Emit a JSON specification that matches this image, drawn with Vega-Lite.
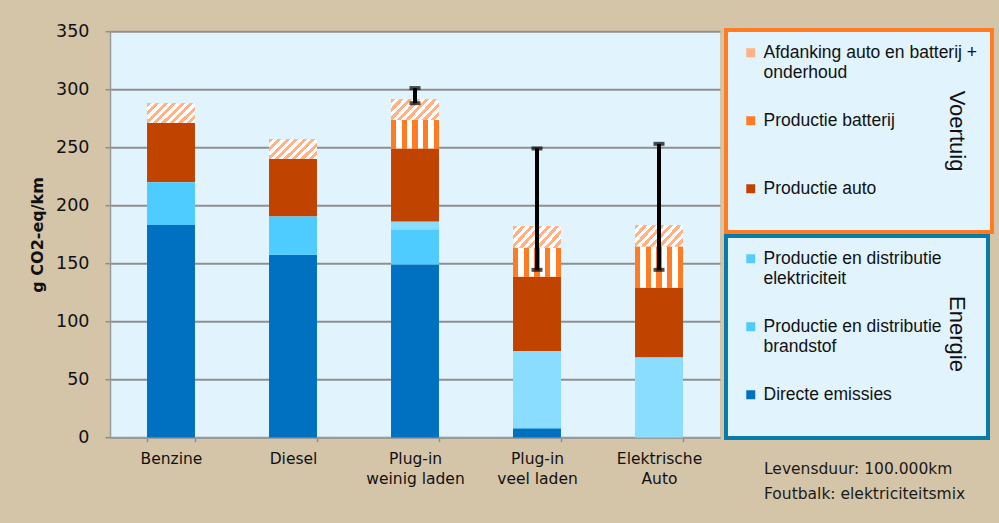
{
  "$schema": "https://vega.github.io/schema/vega-lite/v6.json",
  "width": 610,
  "height": 406.4,
  "autosize": {"type": "none"},
  "padding": {"left": 110, "top": 31.2, "right": 279, "bottom": 85.4},
  "background": "#D4C5A9",
  "config": {
    "view": {"fill": "#E1F3FD", "stroke": null}
  },
  "datasets": {
    "segments": [
      {"auto": "Benzine", "cat": "Directe emissies", "order": 1, "value": 183},
      {"auto": "Benzine", "cat": "Productie en distributie brandstof", "order": 2, "value": 37},
      {"auto": "Benzine", "cat": "Productie auto", "order": 4, "value": 51},
      {"auto": "Benzine", "cat": "Afdanking auto en batterij + onderhoud", "order": 6, "value": 17},
      {"auto": "Diesel", "cat": "Directe emissies", "order": 1, "value": 157.5},
      {"auto": "Diesel", "cat": "Productie en distributie brandstof", "order": 2, "value": 33},
      {"auto": "Diesel", "cat": "Productie auto", "order": 4, "value": 49.5},
      {"auto": "Diesel", "cat": "Afdanking auto en batterij + onderhoud", "order": 6, "value": 17},
      {"auto": "Plug-in weinig laden", "cat": "Directe emissies", "order": 1, "value": 149},
      {"auto": "Plug-in weinig laden", "cat": "Productie en distributie brandstof", "order": 2, "value": 30},
      {"auto": "Plug-in weinig laden", "cat": "Productie en distributie elektriciteit", "order": 3, "value": 7},
      {"auto": "Plug-in weinig laden", "cat": "Productie auto", "order": 4, "value": 63},
      {"auto": "Plug-in weinig laden", "cat": "Productie batterij", "order": 5, "value": 24.5},
      {"auto": "Plug-in weinig laden", "cat": "Afdanking auto en batterij + onderhoud", "order": 6, "value": 18},
      {"auto": "Plug-in veel laden", "cat": "Directe emissies", "order": 1, "value": 8},
      {"auto": "Plug-in veel laden", "cat": "Productie en distributie elektriciteit", "order": 3, "value": 66.5},
      {"auto": "Plug-in veel laden", "cat": "Productie auto", "order": 4, "value": 64},
      {"auto": "Plug-in veel laden", "cat": "Productie batterij", "order": 5, "value": 25},
      {"auto": "Plug-in veel laden", "cat": "Afdanking auto en batterij + onderhoud", "order": 6, "value": 18.8},
      {"auto": "Elektrische Auto", "cat": "Productie en distributie elektriciteit", "order": 3, "value": 69},
      {"auto": "Elektrische Auto", "cat": "Productie auto", "order": 4, "value": 60},
      {"auto": "Elektrische Auto", "cat": "Productie batterij", "order": 5, "value": 35.5},
      {"auto": "Elektrische Auto", "cat": "Afdanking auto en batterij + onderhoud", "order": 6, "value": 18.5}
    ],
    "errors": [
      {"auto": "Plug-in weinig laden", "low": 288, "high": 301},
      {"auto": "Plug-in veel laden", "low": 144.5, "high": 249},
      {"auto": "Elektrische Auto", "low": 144.5, "high": 253}
    ]
  },
  "title": {
    "text": ["Levensduur: 100.000km", "Foutbalk: elektriciteitsmix"],
    "orient": "bottom",
    "anchor": "end",
    "align": "left",
    "frame": "group",
    "dx": 44,
    "offset": -25,
    "font": "DejaVu Sans",
    "fontSize": 15.5,
    "fontWeight": "normal",
    "lineHeight": 25,
    "color": "#1A1A1A"
  },
  "encoding": {
    "x": {
      "field": "auto",
      "type": "nominal",
      "sort": ["Benzine", "Diesel", "Plug-in weinig laden", "Plug-in veel laden", "Elektrische Auto"],
      "scale": {"paddingInner": 0.607, "paddingOuter": 0.3035},
      "axis": {
        "title": null,
        "labelAngle": 0,
        "labelExpr": "datum.label == 'Plug-in weinig laden' ? ['Plug-in', 'weinig laden'] : datum.label == 'Plug-in veel laden' ? ['Plug-in', 'veel laden'] : datum.label == 'Elektrische Auto' ? ['Elektrische', 'Auto'] : datum.label",
        "labelFont": "DejaVu Sans",
        "labelFontSize": 15.5,
        "labelLineHeight": 20,
        "labelColor": "#111111",
        "labelPadding": 10,
        "tickBand": "extent",
        "tickSize": 4,
        "tickColor": "#8C8C8C",
        "tickWidth": 1.5,
        "domainColor": "#9A9A9A",
        "domainWidth": 2
      }
    }
  },
  "layer": [
    {
      "data": {"name": "segments"},
      "transform": [
        {"stack": "value", "groupby": ["auto"], "sort": [{"field": "order", "order": "ascending"}], "as": ["y0", "y1"]}
      ],
      "layer": [
        {
          "transform": [{"filter": "datum.order >= 4"}],
          "mark": {"type": "bar"},
          "encoding": {
            "y": {
              "field": "y1", "type": "quantitative", "title": "g CO2-eq/km",
              "scale": {"domain": [0, 350], "nice": false},
              "axis": {
                "values": [0, 50, 100, 150, 200, 250, 300, 350],
                "grid": true, "gridColor": "#8F8F8F", "gridWidth": 2,
                "domainColor": "#9A9A9A", "domainWidth": 1.5,
                "tickColor": "#8C8C8C", "tickSize": 5, "tickWidth": 1.5,
                "labelFont": "DejaVu Sans", "labelFontSize": 17.5, "labelColor": "#111111", "labelPadding": 16,
                "titleFont": "DejaVu Sans", "titleFontSize": 16, "titleFontWeight": "bold", "titleColor": "#111111", "titlePadding": 10
              }
            },
            "y2": {"field": "y0"},
            "fill": {
              "field": "cat", "type": "nominal",
              "scale": {
                "domain": ["Afdanking auto en batterij + onderhoud", "Productie batterij", "Productie auto"],
                "range": ["#FFB187", "#FF7C24", "#C04400"]
              },
              "legend": {
                "orient": "none", "direction": "vertical",
                "legendX": 616, "legendY": -1.2,
                "title": "Voertuig", "titleOrient": "right", "titleAnchor": "middle",
                "titleFont": "Liberation Sans", "titleFontSize": 22, "titleFontWeight": "normal", "titleColor": "#111111", "titlePadding": -20,
                "strokeColor": "#FF7C24", "fillColor": "#E1F3FD", "padding": 14,
                "symbolType": "square", "symbolSize": 81, "symbolOffset": 2, "symbolStrokeWidth": 0,
                "labelFont": "Liberation Sans", "labelFontSize": 17.5, "labelColor": "#111111", "labelOffset": 4, "labelLimit": 400,
                "labelBaseline": "top",
                "labelExpr": "datum.label == 'Afdanking auto en batterij + onderhoud' ? ['Afdanking auto en batterij +', 'onderhoud'] : [datum.label, ' ']",
                "rowPadding": 30,
                "encoding": {
                  "legend": {"strokeWidth": {"value": 4}},
                  "labels": {"dy": {"value": -8.5}, "lineHeight": {"value": 20}},
                  "title": {"angle": {"value": 90}, "align": {"value": "center"}, "baseline": {"value": "middle"}}
                }
              }
            }
          }
        },
        {
          "transform": [{"filter": "datum.order <= 3"}],
          "mark": {"type": "bar"},
          "encoding": {
            "y": {"field": "y1", "type": "quantitative", "title": "g CO2-eq/km"},
            "y2": {"field": "y0"},
            "color": {
              "field": "cat", "type": "nominal",
              "scale": {
                "domain": ["Productie en distributie elektriciteit", "Productie en distributie brandstof", "Directe emissies"],
                "range": ["#55CDFF", "#4FCCFF", "#0070C0"]
              },
              "legend": {
                "orient": "none", "direction": "vertical",
                "legendX": 616, "legendY": 204.8,
                "title": ["", "Energie"], "titleOrient": "right", "titleAnchor": "middle",
                "titleFont": "Liberation Sans", "titleFontSize": 22, "titleFontWeight": "normal", "titleColor": "#111111", "titlePadding": 21, "titleLineHeight": 6,
                "strokeColor": "#0A7AA6", "fillColor": "#E1F3FD", "padding": 14,
                "symbolType": "square", "symbolSize": 81, "symbolOffset": 2, "symbolStrokeWidth": 0,
                "labelFont": "Liberation Sans", "labelFontSize": 17.5, "labelColor": "#111111", "labelOffset": 4, "labelLimit": 400,
                "labelBaseline": "top",
                "labelExpr": "datum.label == 'Productie en distributie elektriciteit' ? ['Productie en distributie', 'elektriciteit'] : datum.label == 'Productie en distributie brandstof' ? ['Productie en distributie', 'brandstof'] : [datum.label, ' ']",
                "rowPadding": 30,
                "encoding": {
                  "legend": {"strokeWidth": {"value": 4}},
                  "labels": {"dy": {"value": -8.5}, "lineHeight": {"value": 20}},
                  "title": {"angle": {"value": 90}, "align": {"value": "center"}, "baseline": {"value": "middle"}}
                }
              }
            }
          }
        },
        {
          "transform": [{"filter": "datum.cat == 'Productie en distributie elektriciteit'"}],
          "mark": {"type": "bar", "color": "#8ADDFF"},
          "encoding": {
            "y": {"field": "y1", "type": "quantitative", "title": "g CO2-eq/km"},
            "y2": {"field": "y0"}
          }
        },
        {
          "transform": [{"filter": "datum.cat == 'Productie batterij'"}],
          "mark": {
            "type": "bar",
            "color": {
              "gradient": "linear", "x1": 0, "y1": 0, "x2": 1, "y2": 0,
              "stops": [
                {"offset": 0, "color": "#FF7C24"}, {"offset": 0.111, "color": "#FF7C24"},
                {"offset": 0.111, "color": "#FFFFFF"}, {"offset": 0.222, "color": "#FFFFFF"},
                {"offset": 0.222, "color": "#FF7C24"}, {"offset": 0.333, "color": "#FF7C24"},
                {"offset": 0.333, "color": "#FFFFFF"}, {"offset": 0.444, "color": "#FFFFFF"},
                {"offset": 0.444, "color": "#FF7C24"}, {"offset": 0.556, "color": "#FF7C24"},
                {"offset": 0.556, "color": "#FFFFFF"}, {"offset": 0.667, "color": "#FFFFFF"},
                {"offset": 0.667, "color": "#FF7C24"}, {"offset": 0.778, "color": "#FF7C24"},
                {"offset": 0.778, "color": "#FFFFFF"}, {"offset": 0.889, "color": "#FFFFFF"},
                {"offset": 0.889, "color": "#FF7C24"}, {"offset": 1, "color": "#FF7C24"}
              ]
            }
          },
          "encoding": {
            "y": {"field": "y1", "type": "quantitative", "title": "g CO2-eq/km"},
            "y2": {"field": "y0"}
          }
        },
        {
          "transform": [{"filter": "datum.cat == 'Afdanking auto en batterij + onderhoud'"}],
          "mark": {
            "type": "bar",
            "color": {
              "gradient": "linear", "x1": 0, "y1": 0, "x2": 1.207, "y2": 0.503,
              "stops": [
                {"offset": 0, "color": "#FFB187"}, {"offset": 0.0625, "color": "#FFB187"},
                {"offset": 0.0625, "color": "#FFFFFF"}, {"offset": 0.125, "color": "#FFFFFF"},
                {"offset": 0.125, "color": "#FFB187"}, {"offset": 0.1875, "color": "#FFB187"},
                {"offset": 0.1875, "color": "#FFFFFF"}, {"offset": 0.25, "color": "#FFFFFF"},
                {"offset": 0.25, "color": "#FFB187"}, {"offset": 0.3125, "color": "#FFB187"},
                {"offset": 0.3125, "color": "#FFFFFF"}, {"offset": 0.375, "color": "#FFFFFF"},
                {"offset": 0.375, "color": "#FFB187"}, {"offset": 0.4375, "color": "#FFB187"},
                {"offset": 0.4375, "color": "#FFFFFF"}, {"offset": 0.5, "color": "#FFFFFF"},
                {"offset": 0.5, "color": "#FFB187"}, {"offset": 0.5625, "color": "#FFB187"},
                {"offset": 0.5625, "color": "#FFFFFF"}, {"offset": 0.625, "color": "#FFFFFF"},
                {"offset": 0.625, "color": "#FFB187"}, {"offset": 0.6875, "color": "#FFB187"},
                {"offset": 0.6875, "color": "#FFFFFF"}, {"offset": 0.75, "color": "#FFFFFF"},
                {"offset": 0.75, "color": "#FFB187"}, {"offset": 0.8125, "color": "#FFB187"},
                {"offset": 0.8125, "color": "#FFFFFF"}, {"offset": 0.875, "color": "#FFFFFF"},
                {"offset": 0.875, "color": "#FFB187"}, {"offset": 0.9375, "color": "#FFB187"},
                {"offset": 0.9375, "color": "#FFFFFF"}, {"offset": 1, "color": "#FFFFFF"}
              ]
            }
          },
          "encoding": {
            "y": {"field": "y1", "type": "quantitative", "title": "g CO2-eq/km"},
            "y2": {"field": "y0"}
          }
        }
      ]
    },
    {
      "data": {"name": "errors"},
      "layer": [
        {
          "mark": {"type": "rule", "color": "#000000", "strokeWidth": 4},
          "encoding": {
            "y": {"field": "low", "type": "quantitative", "title": "g CO2-eq/km"},
            "y2": {"field": "high"}
          }
        },
        {
          "mark": {"type": "tick", "color": "#000000", "size": 11, "thickness": 4},
          "encoding": {
            "y": {"field": "low", "type": "quantitative", "title": "g CO2-eq/km"}
          }
        },
        {
          "mark": {"type": "tick", "color": "#000000", "size": 11, "thickness": 4},
          "encoding": {
            "y": {"field": "high", "type": "quantitative", "title": "g CO2-eq/km"}
          }
        }
      ]
    }
  ]
}
